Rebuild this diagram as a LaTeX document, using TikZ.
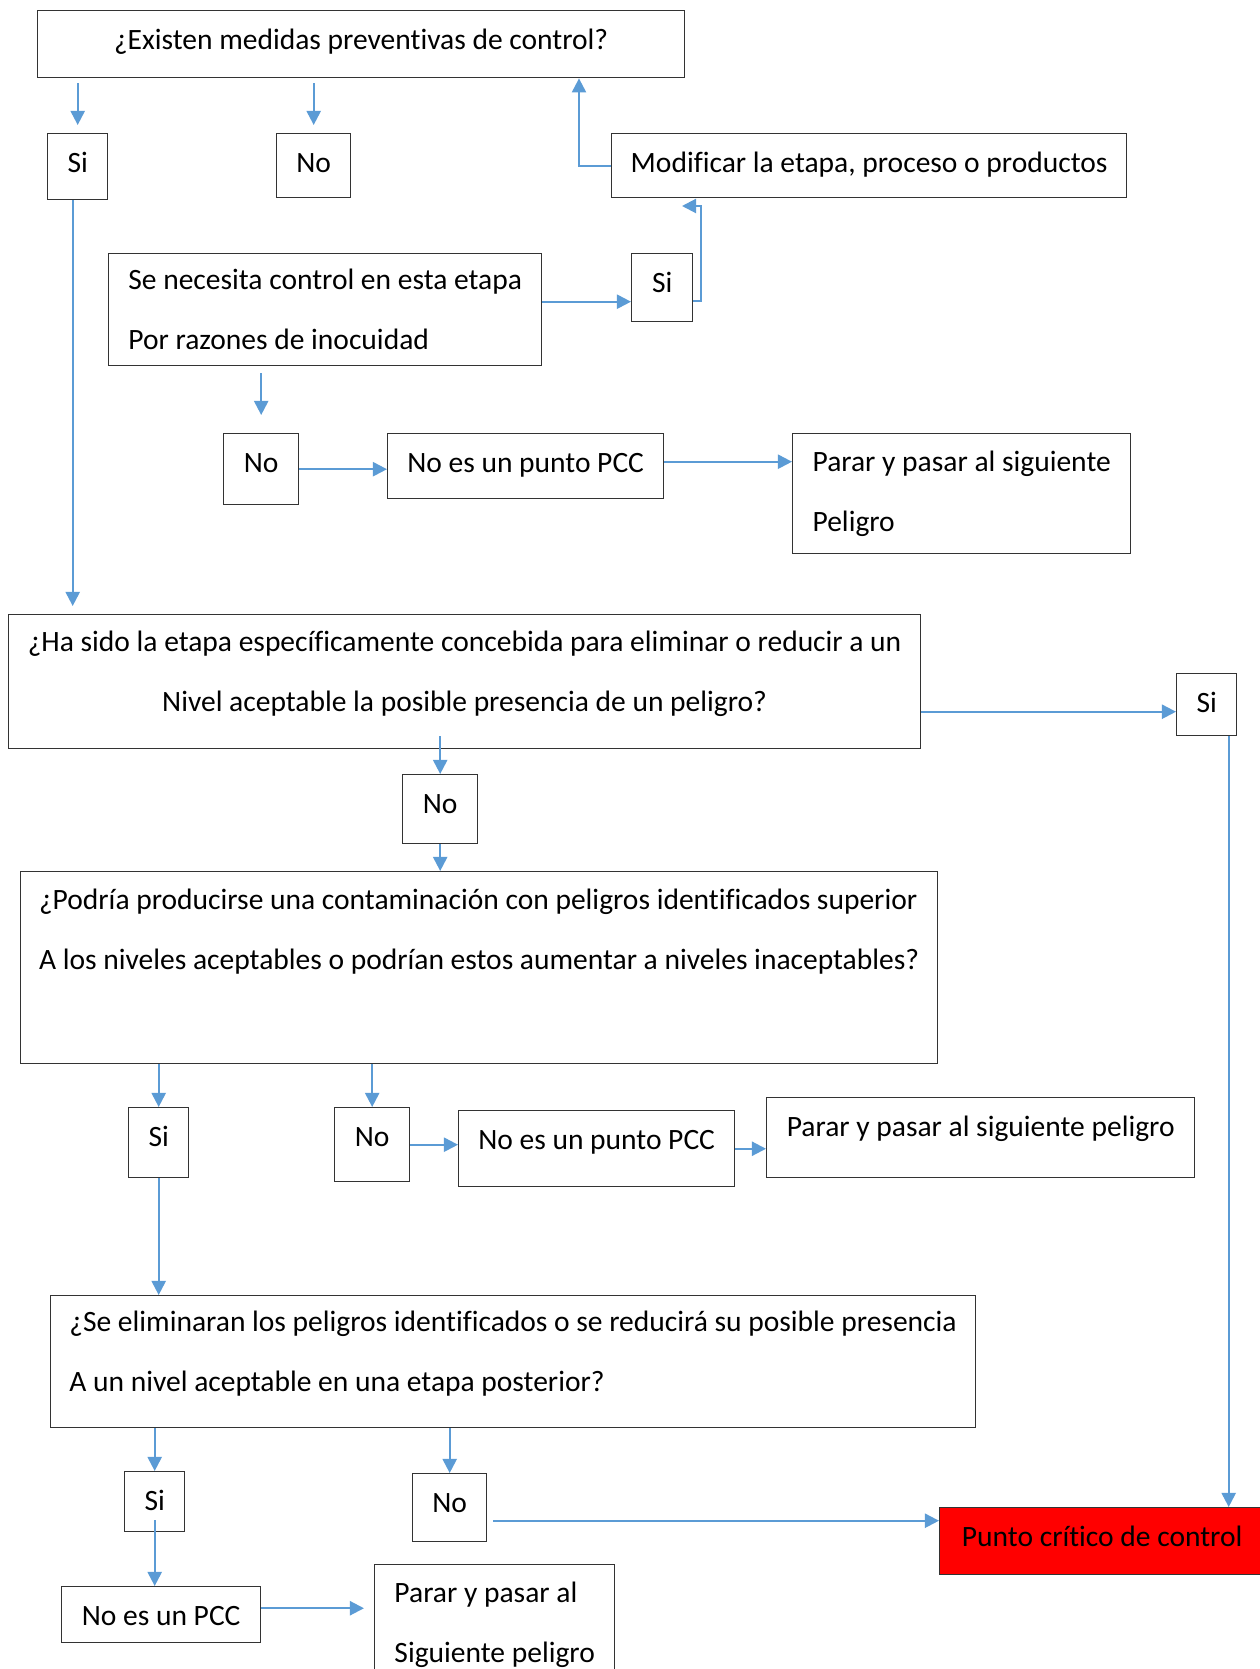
\documentclass[tikz,border=0pt]{standalone}
\usepackage{fontspec}
\setmainfont{Carlito}[Ligatures=NoCommon]
\usetikzlibrary{positioning, arrows.meta}
\definecolor{flowblue}{HTML}{5B9BD5}

\begin{document}
\begin{tikzpicture}[
    x=0.02cm, y=-0.02cm,
    font=\fontsize{16.8}{34}\selectfont,
    box/.style={rectangle, draw=black!80, line width=0.8pt, anchor=north west, inner sep=0pt, align=left},
    answer/.style={box, align=center, text height=21.9pt},
    pcc/.style={answer, fill=red},
    flow/.style={draw=flowblue, line width=1.2pt, -{Triangle[length=8pt, width=8pt]}}
]
\useasboundingbox (0,0) rectangle (1260,1669);

% First question
\node[answer, minimum width=12.94cm, minimum height=1.34cm, text depth=16.2pt] (q1) at (37,10) {¿Existen medidas preventivas de control?};
\node[answer, minimum width=1.2cm, minimum height=1.32cm, text depth=15.7pt] (si1) at (47,133) {Si};
\node[answer, minimum width=1.48cm, minimum height=1.28cm, text depth=14.5pt] (no1) at (276,133) {No};
\node[answer, minimum width=10.3cm, minimum height=1.28cm, text depth=14.5pt] (modif) at (611,133) {Modificar la etapa, proceso o productos};

% Control needed at this step
\node[box, minimum width=8.66cm, minimum height=2.24cm] (necesita) at (108,253) {Se necesita control en esta etapa\\Por razones de inocuidad};
\node[answer, minimum width=1.22cm, minimum height=1.36cm, text depth=16.8pt] (si2) at (631,253) {Si};
\node[answer, minimum width=1.5cm, minimum height=1.42cm, text depth=18.5pt] (no2) at (223,433) {No};
\node[answer, minimum width=5.52cm, minimum height=1.3cm, text depth=15.1pt] (nopcc1) at (387,433) {No es un punto PCC};
\node[box, minimum width=6.76cm, minimum height=2.4cm] (parar1) at (792,433) {Parar y pasar al siguiente\\Peligro};

% Second question
\node[box, align=center, minimum width=18.24cm, minimum height=2.68cm, text depth=12pt] (ha) at (8,614) {¿Ha sido la etapa específicamente concebida para eliminar o reducir a un\\Nivel aceptable la posible presencia de un peligro?};
\node[answer, minimum width=1.2cm, minimum height=1.24cm, text depth=13.4pt] (si3) at (1176,673) {Si};
\node[answer, minimum width=1.5cm, minimum height=1.38cm, text depth=17.4pt] (no3) at (402,774) {No};

% Third question
\node[box, minimum width=18.34cm, minimum height=3.84cm, text depth=44pt] (podria) at (20,871) {¿Podría producirse una contaminación con peligros identificados superior\\A los niveles aceptables o podrían estos aumentar a niveles inaceptables?};
\node[answer, minimum width=1.2cm, minimum height=1.4cm, text depth=17.9pt] (si4) at (128,1107) {Si};
\node[answer, minimum width=1.5cm, minimum height=1.48cm, text depth=20.2pt] (no4) at (334,1107) {No};
\node[answer, minimum width=5.52cm, minimum height=1.52cm, text depth=21.4pt] (nopcc2) at (458,1110) {No es un punto PCC};
\node[answer, align=left, minimum width=8.56cm, minimum height=1.6cm, text depth=23.6pt] (parar2) at (766,1097) {Parar y pasar al siguiente peligro};

% Fourth question
\node[box, minimum width=18.5cm, minimum height=2.64cm, text depth=12pt] (elim) at (50,1295) {¿Se eliminaran los peligros identificados o se reducirá su posible presencia\\A un nivel aceptable en una etapa posterior?};
\node[answer, minimum width=1.2cm, minimum height=1.2cm, text depth=12.2pt] (si5) at (124,1471) {Si};
\node[answer, minimum width=1.48cm, minimum height=1.36cm, text depth=16.8pt] (no5) at (412,1473) {No};
\node[pcc, minimum width=6.5cm, minimum height=1.34cm, text depth=16.2pt] (punto) at (939,1507) {Punto crítico de control};
\node[answer, minimum width=3.98cm, minimum height=1.12cm, text depth=10pt] (nopcc3) at (61,1586) {No es un PCC};
\node[box, minimum width=4.8cm, minimum height=2.4cm] (parar3) at (374,1564) {Parar y pasar al\\Siguiente peligro};

% Connectors
\draw[flow, shorten <=0.1cm, shorten >=0.16cm] (q1.south -| si1.north) -- (si1.north);
\draw[flow, shorten <=0.1cm, shorten >=0.16cm] (q1.south -| no1.north) -- (no1.north);
\draw[flow] (modif.west) -- ++(-32,0) coordinate (m1) -- (m1 |- q1.south);
\draw[flow] ([yshift=-0.28cm]si2.west -| necesita.east) -- ([yshift=-0.28cm]si2.west);
\coordinate (m2) at (682,206);
\draw[flow] ([yshift=-0.26cm]si2.east) -- ++(8,0) |- (m2);
\draw[flow, shorten <=0.14cm, shorten >=0.36cm] (necesita.south -| no2.north) -- (no2.north);
\draw[flow] (no2.east) -- (no2.east -| nopcc1.west);
\draw[flow] ([yshift=0.09cm]nopcc1.east) -- ([yshift=0.09cm]nopcc1.east -| parar1.west);
\draw[flow, shorten >=0.16cm] ([xshift=-0.1cm]si1.south) -- ([xshift=-0.1cm]si1.south |- ha.north);
\draw[flow] ([yshift=-0.14cm]si3.west -| ha.east) -- ([yshift=-0.14cm]si3.west);
\draw[flow] ([xshift=0.44cm]si3.south) -- ([xshift=0.44cm]si3.south |- punto.north);
\draw[flow, shorten <=-0.26cm] (no3.north |- ha.south) -- (no3.north);
\draw[flow] (no3.south) -- (no3.south |- podria.north);
\draw[flow] (si4.north |- podria.south) -- (si4.north);
\draw[flow] (no4.north |- podria.south) -- (no4.north);
\draw[flow] (no4.east) -- (no4.east -| nopcc2.west);
\draw[flow] (nopcc2.east) -- (nopcc2.east -| parar2.west);
\draw[flow] (si4.south) -- (si4.south |- elim.north);
\draw[flow] (si5.north |- elim.south) -- (si5.north);
\draw[flow] (no5.north |- elim.south) -- (no5.north);
\draw[flow, shorten <=-0.24cm] (si5.south) -- (si5.south |- nopcc3.north);
\draw[flow, shorten >=0.2cm] ([yshift=0.13cm]nopcc3.east) -- ([yshift=0.13cm]nopcc3.east -| parar3.west);
\draw[flow, shorten <=0.12cm] ([yshift=-0.26cm]no5.east) -- ([yshift=-0.26cm]no5.east -| punto.west);

\end{tikzpicture}
\end{document}
